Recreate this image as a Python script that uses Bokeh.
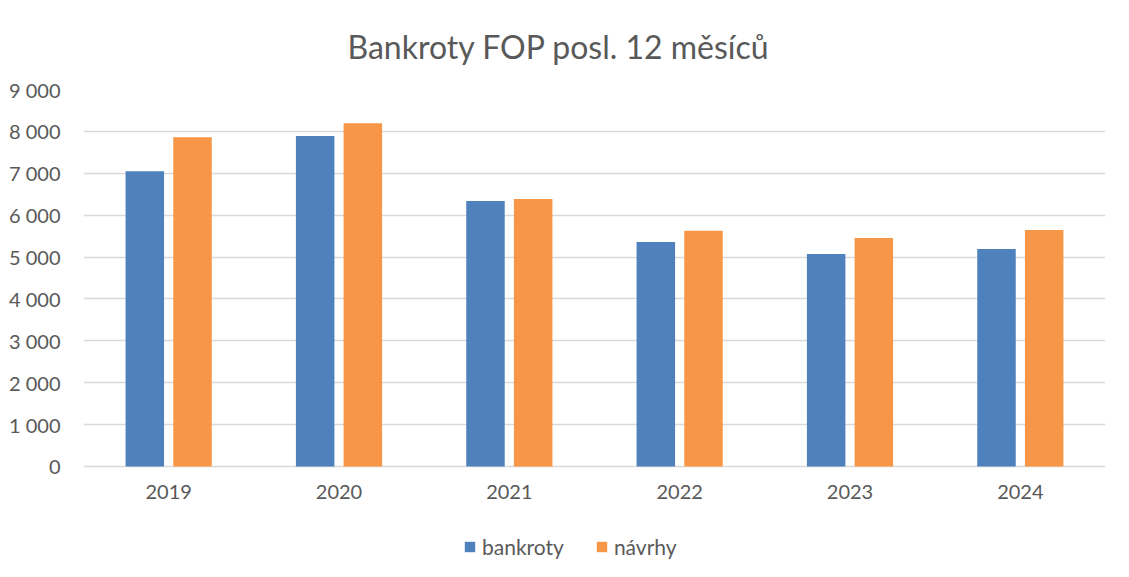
from bokeh.plotting import figure
from bokeh.models import ColumnDataSource, FactorRange, Range1d, FixedTicker, Legend, LegendItem
from bokeh.transform import dodge
from bokeh.embed import file_html
from bokeh.resources import INLINE

years = ["2019", "2020", "2021", "2022", "2023", "2024"]
bankroty = [7050, 7890, 6340, 5360, 5075, 5195]
navrhy = [7860, 8195, 6385, 5625, 5455, 5645]
y_ticks = [0, 1000, 2000, 3000, 4000, 5000, 6000, 7000, 8000, 9000]
y_tick_labels = ["0", "1 000", "2 000", "3 000", "4 000", "5 000", "6 000", "7 000", "8 000", "9 000"]
series_names = ["bankroty", "návrhy"]

BLUE = "#4F81BD"
ORANGE = "#F79646"
TEXT = "#595959"
GRID = "#D9D9D9"
FONT = "Lato"

src = ColumnDataSource(dict(years=years, bankroty=bankroty, navrhy=navrhy))

# frame extends below zero so the axis labels and legend live inside it
p = figure(
    width=1121, height=569,
    x_range=FactorRange(*years, range_padding=0),
    y_range=Range1d(-2459, 9000),
    output_backend="svg", toolbar_location=None,
    min_border_left=83, min_border_right=16, min_border_top=89, min_border_bottom=0,
)
p.outline_line_color = None

p.title.text = "Bankroty FOP posl. 12 měsíců"
p.title.align = "left"
p.title.offset = 264
p.title.text_font = FONT
p.title.text_font_size = "32px"
p.title.text_font_style = "normal"
p.title.text_color = TEXT
p.title.standoff = 48

r1 = p.vbar(x=dodge("years", -0.14, range=p.x_range), top="bankroty", width=0.226,
            source=src, fill_color=BLUE, line_color=None)
r2 = p.vbar(x=dodge("years", 0.14, range=p.x_range), top="navrhy", width=0.226,
            source=src, fill_color=ORANGE, line_color=None)

p.xgrid.grid_line_color = None
p.ygrid.grid_line_color = GRID
p.ygrid.grid_line_width = 1.5
p.ygrid.ticker = FixedTicker(ticks=y_ticks)

p.yaxis.ticker = FixedTicker(ticks=y_ticks)
p.yaxis.major_label_overrides = {t: l for t, l in zip(y_ticks, y_tick_labels)}
p.yaxis.axis_line_color = None
p.yaxis.major_tick_line_color = None
p.yaxis.minor_tick_line_color = None
p.yaxis.major_tick_out = 0
p.yaxis.minor_tick_out = 0
p.yaxis.major_label_text_font = FONT
p.yaxis.major_label_text_font_size = "20px"
p.yaxis.major_label_text_color = TEXT
p.yaxis.major_label_standoff = 23

p.xaxis.fixed_location = 0
p.xaxis.axis_line_color = None
p.xaxis.major_tick_line_color = None
p.xaxis.minor_tick_line_color = None
p.xaxis.major_tick_out = 0
p.xaxis.minor_tick_out = 0
p.xaxis.major_label_text_font = FONT
p.xaxis.major_label_text_font_size = "20px"
p.xaxis.major_label_text_color = TEXT
p.xaxis.major_label_standoff = 19

legend = Legend(
    items=[LegendItem(label=series_names[0], renderers=[r1]),
           LegendItem(label=series_names[1], renderers=[r2])],
    orientation="horizontal", location=(380, 10),
    border_line_color=None, background_fill_alpha=0,
    label_text_font=FONT, label_text_font_size="21px", label_text_color=TEXT,
    glyph_width=13, glyph_height=13, label_standoff=6, spacing=31,
    padding=0, margin=0,
)
p.add_layout(legend, "center")

open("out.html", "w").write(file_html(p, INLINE))
